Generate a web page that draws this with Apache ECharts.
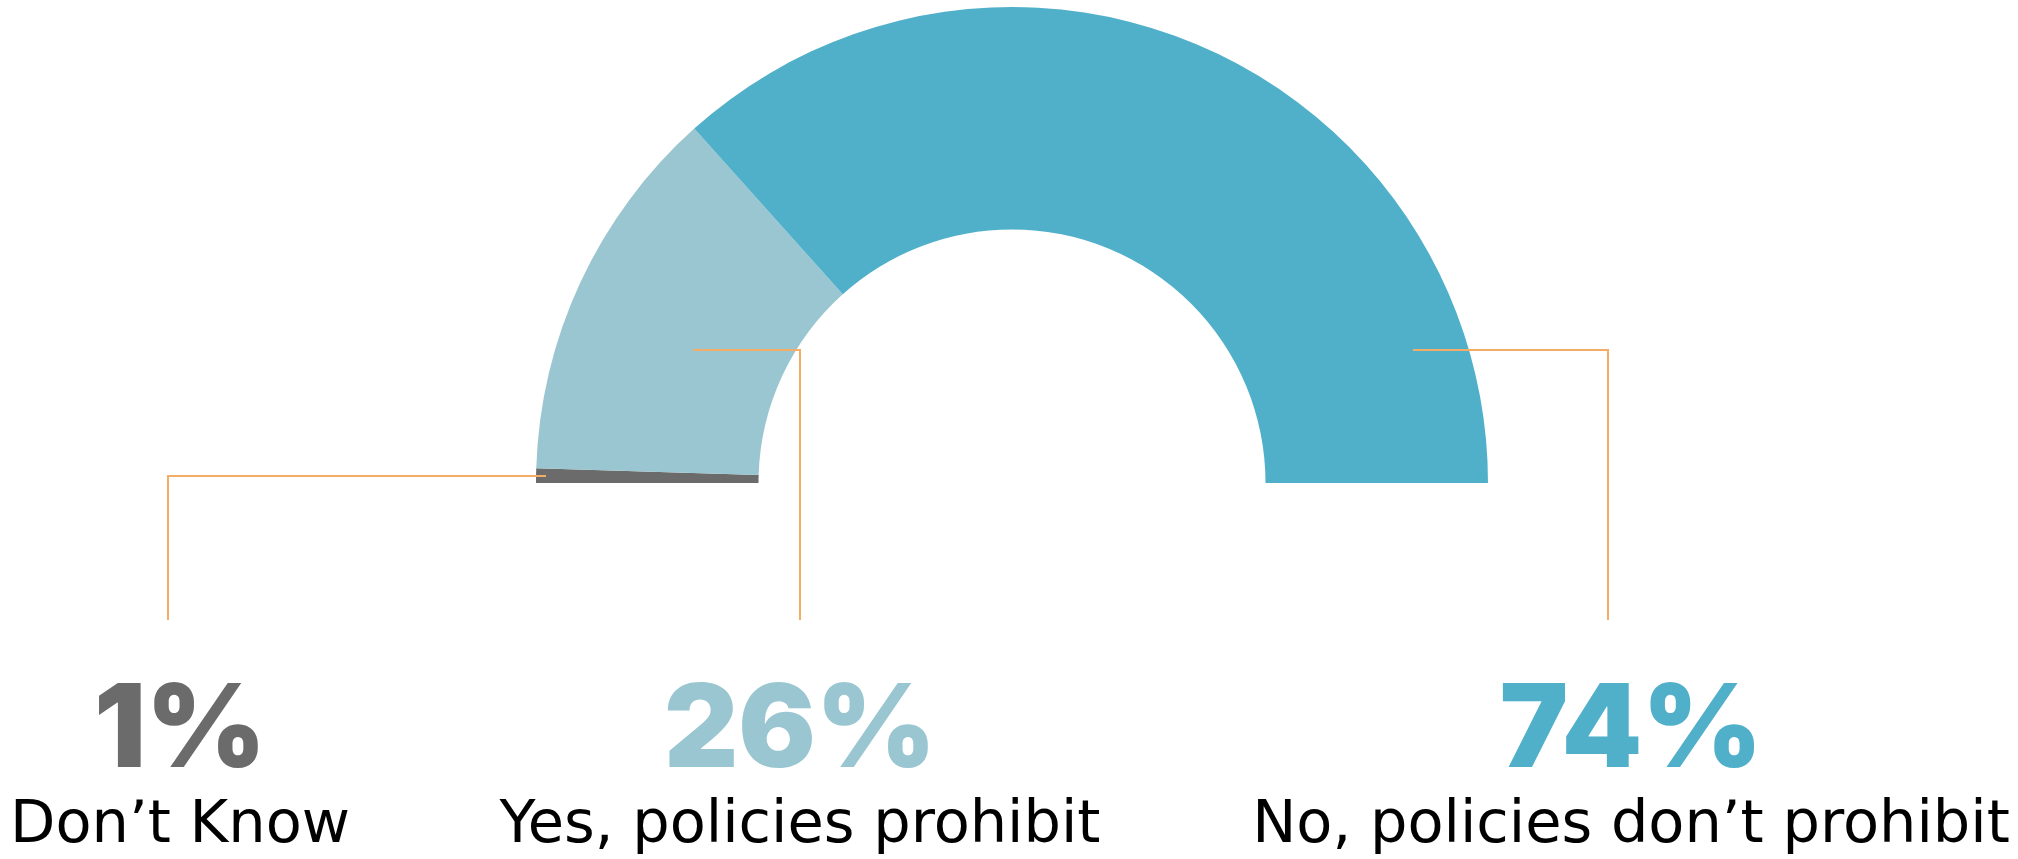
<!DOCTYPE html>
<html>
<head>
<meta charset="utf-8">
<title>Policies prohibit</title>
<script src="https://cdn.jsdelivr.net/npm/echarts@6/dist/echarts.min.js"></script>
<style>
  html, body { margin: 0; padding: 0; background: #ffffff; }
  #chart { width: 2018px; height: 859px; }
</style>
</head>
<body>
<div id="chart"></div>
<script>
// Survey answers, left to right along the half ring
const categories = ['Don\u2019t Know', 'Yes, policies prohibit', 'No, policies don\u2019t prohibit'];
const shares = [1, 26, 74];
const sliceColors = ['#6b6b6b', '#99c6d1', '#50b0ca'];

// Where each answer block sits and how its guide line runs
const labelCenterX = [180, 800, 1631];
const labelTop = 677;
const guidePaths = [
  [[546, 476], [168, 476], [168, 620]],
  [[693, 350], [800, 350], [800, 620]],
  [[1413, 350], [1608, 350], [1608, 620]]
];

const rich = {
  name: {
    fontFamily: 'DejaVu Sans',
    fontSize: 59,
    fontWeight: 'normal',
    color: '#000000',
    lineHeight: 79,
    align: 'center'
  }
};
sliceColors.forEach(function (c, i) {
  rich['n' + i] = {
    fontFamily: 'Inter',
    fontSize: 115,
    fontWeight: 900,
    color: c,
    lineHeight: 110,
    align: 'center'
  };
});

// Shared half-ring geometry for both layers
const ring = {
  type: 'pie',
  center: [1012, 483],
  radius: [253.5, 476],
  startAngle: 180,
  endAngle: 0,
  clockwise: true,
  avoidLabelOverlap: false,
  minShowLabelAngle: 0,
  silent: true
};

const chart = echarts.init(document.getElementById('chart'), null, { renderer: 'canvas' });

chart.setOption({
  animation: false,
  backgroundColor: '#ffffff',
  series: [
    // Coloured slices
    Object.assign({}, ring, {
      z: 2,
      itemStyle: { borderWidth: 0 },
      label: { show: false },
      labelLine: { show: false },
      data: categories.map(function (name, i) {
        return { name: name, value: shares[i], itemStyle: { color: sliceColors[i] } };
      })
    }),
    // Same slices, see-through, carrying the answer blocks and guide lines on top
    Object.assign({}, ring, {
      z: 4,
      itemStyle: { color: 'rgba(0,0,0,0)', borderWidth: 0 },
      data: categories.map(function (name, i) {
        return { name: name, value: shares[i] };
      }),
      label: {
        show: true,
        position: 'outside',
        width: 1000,
        overflow: 'none',
        align: 'center',
        formatter: function (p) {
          return '{n' + p.dataIndex + '|' + p.value + '%}\n{name|' + p.name + '}';
        },
        rich: rich
      },
      labelLine: {
        show: true,
        smooth: false,
        lineStyle: { color: '#f4ad66', width: 2 }
      },
      labelLayout: function (p) {
        const i = p.dataIndex;
        return {
          x: labelCenterX[i],
          y: labelTop,
          align: 'center',
          verticalAlign: 'top',
          labelLinePoints: guidePaths[i]
        };
      }
    })
  ]
});
</script>
</body>
</html>
